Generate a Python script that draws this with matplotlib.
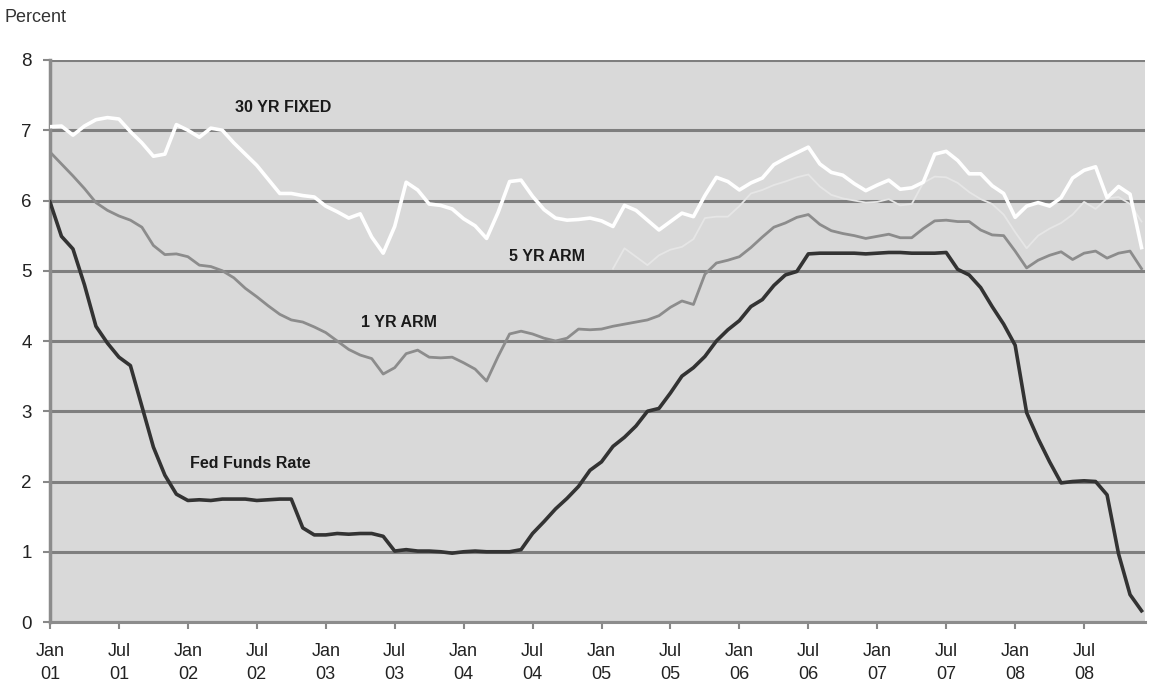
#!/usr/bin/env python3
# coding: utf-8
from __future__ import annotations

import matplotlib

matplotlib.use("Agg")
import matplotlib.pyplot as plt
import numpy as np

# Constants
FONT_FAMILY = ["Liberation Sans", "DejaVu Sans"]
BG_COLOR = "#d9d9d9"
GRID_COLOR = "#7f7f7f"

# Monthly series, Jan 2001 .. Dec 2008 (percent)
fixed_30yr = [
    7.05, 7.06, 6.93, 7.06, 7.15, 7.18, 7.16, 6.98, 6.82, 6.63, 6.66, 7.08,
    7.00, 6.90, 7.03, 7.00, 6.82, 6.66, 6.50, 6.30, 6.10, 6.10, 6.07, 6.05,
    5.92, 5.84, 5.75, 5.81, 5.48, 5.25, 5.63, 6.26, 6.15, 5.95, 5.93, 5.88,
    5.74, 5.64, 5.46, 5.83, 6.27, 6.29, 6.06, 5.87, 5.75, 5.72, 5.73, 5.75,
    5.71, 5.63, 5.93, 5.86, 5.72, 5.58, 5.70, 5.82, 5.77, 6.07, 6.33, 6.27,
    6.15, 6.25, 6.32, 6.51, 6.60, 6.68, 6.76, 6.52, 6.40, 6.36, 6.24, 6.14,
    6.22, 6.29, 6.16, 6.18, 6.26, 6.66, 6.70, 6.57, 6.38, 6.38, 6.21, 6.10,
    5.76, 5.92, 5.97, 5.92, 6.04, 6.32, 6.43, 6.48, 6.04, 6.20, 6.09, 5.33,
]

arm_1yr = [
    6.69, 6.52, 6.35, 6.17, 5.97, 5.86, 5.78, 5.72, 5.62, 5.36, 5.23, 5.24,
    5.20, 5.08, 5.06, 5.00, 4.90, 4.75, 4.63, 4.50, 4.38, 4.30, 4.27, 4.20,
    4.12, 4.00, 3.88, 3.80, 3.75, 3.53, 3.62, 3.82, 3.87, 3.77, 3.76, 3.77,
    3.69, 3.60, 3.43, 3.78, 4.10, 4.14, 4.10, 4.04, 4.00, 4.04, 4.17, 4.16,
    4.17, 4.21, 4.24, 4.27, 4.30, 4.36, 4.48, 4.57, 4.52, 4.95, 5.11, 5.15,
    5.20, 5.33, 5.48, 5.62, 5.68, 5.76, 5.80, 5.66, 5.57, 5.53, 5.50, 5.46,
    5.49, 5.52, 5.47, 5.47, 5.60, 5.71, 5.72, 5.70, 5.70, 5.58, 5.51, 5.50,
    5.28, 5.04, 5.15, 5.22, 5.27, 5.16, 5.25, 5.28, 5.18, 5.25, 5.28, 5.03,
]

# 5 YR ARM series starts Feb 2005
arm_5yr_start = 49
arm_5yr = [
    5.03, 5.32, 5.20, 5.08, 5.22, 5.30, 5.34, 5.45, 5.75, 5.77, 5.77,
    5.92, 6.10, 6.15, 6.22, 6.27, 6.33, 6.37, 6.20, 6.08, 6.03, 6.00, 5.97,
    5.98, 6.02, 5.93, 5.95, 6.25, 6.34, 6.33, 6.25, 6.12, 6.02, 5.95, 5.80,
    5.55, 5.32, 5.50, 5.60, 5.68, 5.80, 5.98, 5.88, 6.03, 6.05, 5.95, 5.70,
]

fed_funds = [
    5.98, 5.49, 5.31, 4.80, 4.21, 3.97, 3.77, 3.65, 3.07, 2.49, 2.09, 1.82,
    1.73, 1.74, 1.73, 1.75, 1.75, 1.75, 1.73, 1.74, 1.75, 1.75, 1.34, 1.24,
    1.24, 1.26, 1.25, 1.26, 1.26, 1.22, 1.01, 1.03, 1.01, 1.01, 1.00, 0.98,
    1.00, 1.01, 1.00, 1.00, 1.00, 1.03, 1.26, 1.43, 1.61, 1.76, 1.93, 2.16,
    2.28, 2.50, 2.63, 2.79, 3.00, 3.04, 3.26, 3.50, 3.62, 3.78, 4.00, 4.16,
    4.29, 4.49, 4.59, 4.79, 4.94, 4.99, 5.24, 5.25, 5.25, 5.25, 5.25, 5.24,
    5.25, 5.26, 5.26, 5.25, 5.25, 5.25, 5.26, 5.02, 4.94, 4.76, 4.49, 4.24,
    3.94, 2.98, 2.61, 2.28, 1.98, 2.00, 2.01, 2.00, 1.81, 0.97, 0.39, 0.16,
]

tick_labels = [
    "Jan\n01", "Jul\n01", "Jan\n02", "Jul\n02", "Jan\n03", "Jul\n03",
    "Jan\n04", "Jul\n04", "Jan\n05", "Jul\n05", "Jan\n06", "Jul\n06",
    "Jan\n07", "Jul\n07", "Jan\n08", "Jul\n08",
]


def configure_plotting() -> None:
    plt.rcParams["font.family"] = FONT_FAMILY
    plt.rcParams["font.size"] = 12


def plot_rates(output_path: str = "out.png") -> None:
    configure_plotting()
    fig = plt.figure(figsize=(11.49, 6.96), dpi=100)
    ax = fig.add_axes([0.0435, 0.1063, 0.953, 0.8075])
    ax.set_facecolor(BG_COLOR)

    months = np.arange(len(fed_funds))
    arm5_x = months[arm_5yr_start:arm_5yr_start + len(arm_5yr)]

    # horizontal grid at every percent
    for level in range(0, 9):
        ax.axhline(level, color=GRID_COLOR, lw=2.2, zorder=1)

    ax.plot(months, fixed_30yr, color="white", lw=2.6, zorder=3)
    ax.plot(arm5_x, arm_5yr, color="#e6e6e6", lw=1.3, zorder=2)
    ax.plot(months, arm_1yr, color="#8c8c8c", lw=2.0, zorder=3)
    ax.plot(months, fed_funds, color="#333333", lw=2.6, zorder=4)

    label_kw = dict(fontsize=11.5, fontweight="bold", color="#1a1a1a",
                    ha="center", va="center", zorder=5)
    ax.text(20.3, 7.33, "30 YR FIXED", **label_kw)
    ax.text(43.3, 5.2, "5 YR ARM", **label_kw)
    ax.text(30.4, 4.26, "1 YR ARM", **label_kw)
    ax.text(17.4, 2.25, "Fed Funds Rate", **label_kw)

    ax.set_xlim(0, 95.3)
    ax.set_ylim(0, 8)
    ax.set_yticks(range(0, 9))
    ax.set_xticks(np.arange(0, 96, 6))
    ax.set_xticklabels(tick_labels, fontsize=13, color="#222222", linespacing=1.45)
    ax.tick_params(axis="y", length=5, width=1.5, color="#888888", pad=8,
                   labelsize=13.5, labelcolor="#222222")
    ax.tick_params(axis="x", length=5, width=1.5, color="#888888", pad=10)

    for side in ("top", "right"):
        ax.spines[side].set_visible(False)
    ax.spines["left"].set_color("#8c8c8c")
    ax.spines["left"].set_linewidth(2.5)
    ax.spines["bottom"].set_color("#8c8c8c")
    ax.spines["bottom"].set_linewidth(2.2)

    fig.text(0.004, 0.975, "Percent", fontsize=13, color="#333333",
             ha="left", va="center")

    fig.savefig(output_path, dpi=100, facecolor="white")


def main() -> None:
    plot_rates("out.png")


if __name__ == "__main__":
    main()
